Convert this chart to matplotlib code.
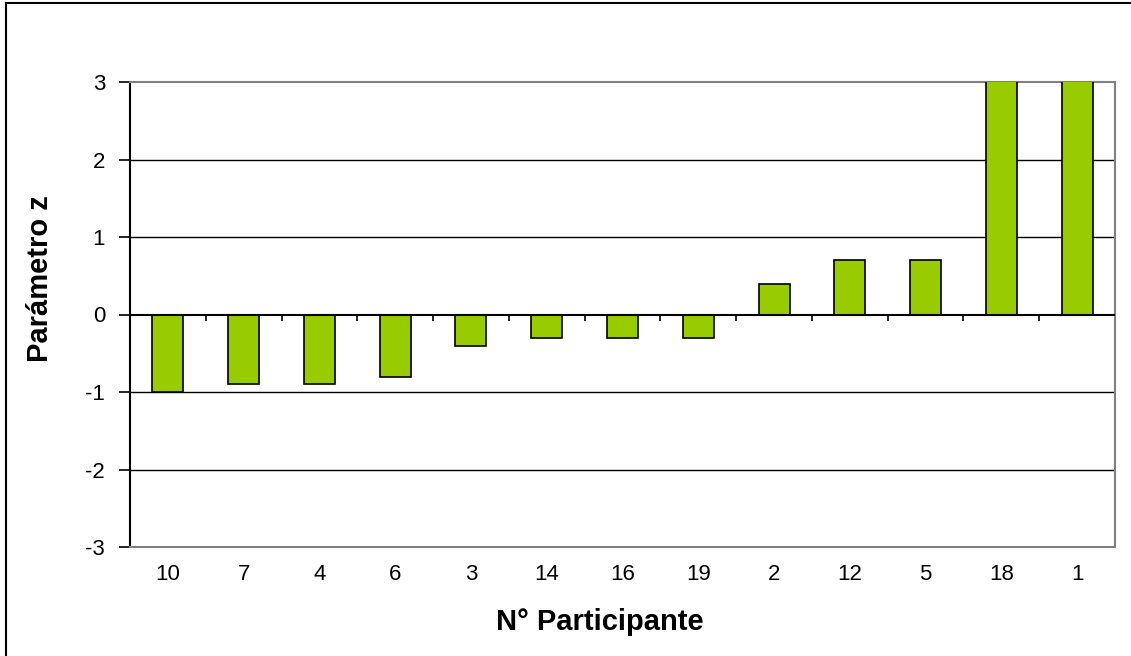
import matplotlib
matplotlib.use("Agg")
import matplotlib.pyplot as plt
import numpy as np
from matplotlib.lines import Line2D

plt.rcParams['font.family'] = ['Liberation Sans', 'DejaVu Sans']

# Data (18 and 1 run off the top of the axis)
participants = ["10", "7", "4", "6", "3", "14", "16", "19", "2", "12", "5", "18", "1"]
z_values = [-1.0, -0.9, -0.9, -0.8, -0.4, -0.3, -0.3, -0.3, 0.4, 0.7, 0.7, 4.0, 4.0]
y_ticks = [-3, -2, -1, 0, 1, 2, 3]

BAR_GREEN = "#99CC00"
GRID_GRAY = "#808080"
W, H = 1131, 656

fig = plt.figure(figsize=(W / 100, H / 100), dpi=100)
ax = fig.add_axes([130 / W, 1 - 547 / H, (1115 - 130) / W, (547 - 82) / H])

x = np.arange(len(participants))
ax.bar(x, z_values, width=0.41, color=BAR_GREEN, edgecolor="black", linewidth=1.2, zorder=3)

ax.set_xlim(-0.5, len(participants) - 0.5)
ax.set_ylim(-3, 3)
ax.set_yticks(y_ticks)
ax.set_yticklabels([str(v) for v in y_ticks], fontsize=16)
ax.set_xticks(x)
ax.set_xticklabels(participants, fontsize=16)
ax.tick_params(axis="x", length=0, pad=12)
ax.tick_params(axis="y", direction="out", length=8, width=1.2, color="black", pad=10)

# horizontal gridlines
for v in y_ticks[1:-1]:
    lw = 1.5 if v == 0 else 1.0
    ax.axhline(v, color="black", linewidth=lw, zorder=1 if v else 4)

# small category-boundary tick marks hanging below the zero line
boundaries = np.arange(len(participants) + 1)[1:-1] - 0.5
ax.vlines(boundaries, -0.08, 0, colors="black", linewidth=1.2, zorder=4)

# spines
for side in ("top", "right", "bottom"):
    ax.spines[side].set_color(GRID_GRAY)
    ax.spines[side].set_linewidth(1.5)
ax.spines["left"].set_color("black")
ax.spines["left"].set_linewidth(1.5)

fig.text(40 / W, 1 - 279 / H, "Parámetro z", fontsize=21, fontweight="bold",
         rotation=90, ha="center", va="center")
fig.text(600 / W, 1 - 622 / H, "N° Participante", fontsize=21, fontweight="bold",
         ha="center", va="center")

# outer chart frame (left and top edges visible)
fig.add_artist(Line2D([6 / W, 6 / W], [0, 1 - 3 / H], transform=fig.transFigure,
                      color="black", linewidth=1.5))
fig.add_artist(Line2D([6 / W, 1], [1 - 3 / H, 1 - 3 / H], transform=fig.transFigure,
                      color="black", linewidth=1.5))

fig.savefig("out.png", dpi=100, facecolor="white")
